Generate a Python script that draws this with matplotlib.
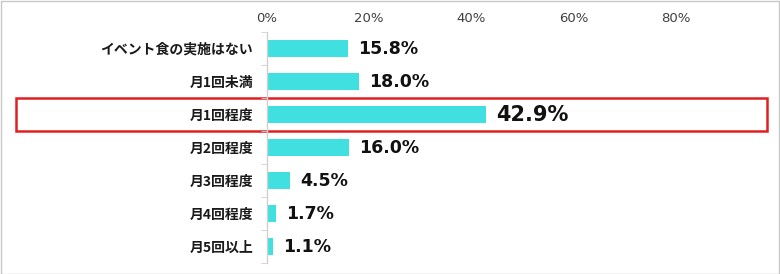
import matplotlib
matplotlib.use("Agg")
import matplotlib.pyplot as plt
import matplotlib.transforms as mtransforms
from matplotlib.patches import Rectangle

plt.rcParams['font.family'] = ['Noto Sans CJK JP', 'DejaVu Sans']

categories = ["イベント食の実施はない", "月1回未満", "月1回程度", "月2回程度", "月3回程度", "月4回程度", "月5回以上"]
values = [15.8, 18.0, 42.9, 16.0, 4.5, 1.7, 1.1]
xticks = [0, 20, 40, 60, 80]
xtick_labels = ["0%", "20%", "40%", "60%", "80%"]
highlight = 2

W, H = 780, 274
fig = plt.figure(figsize=(W / 100, H / 100), dpi=100)
ax = fig.add_axes([267 / W, 1 - 263 / H, (778 - 267) / W, (263 - 32) / H])

y = list(range(len(categories)))
ax.barh(y, values, height=0.5, color="#40e0e0")
ax.set_xlim(0, 100)
ax.set_ylim(len(categories) - 0.5, -0.5)

for i, v in enumerate(values):
    big = i == highlight
    ax.text(v + 2, i, f"{v:.1f}%", va="center", ha="left", family="DejaVu Sans",
            fontsize=15 if big else 12.5, fontweight="bold", color="#111111")

ax.set_yticks(y)
ax.set_yticklabels(categories, fontsize=10, fontweight="bold", color="#1a1a1a")
ax.tick_params(axis="y", length=0, pad=10)
ax.set_yticks([i + 0.5 for i in range(-1, len(categories))], minor=True)
ax.tick_params(axis="y", which="minor", length=4, color="#d0d0d0", direction="out")

ax.xaxis.tick_top()
ax.set_xticks(xticks)
ax.set_xticklabels(xtick_labels, fontsize=9.5, color="#404040", family="DejaVu Sans")
ax.tick_params(axis="x", length=0, pad=5)

for s in ["top", "right", "bottom"]:
    ax.spines[s].set_visible(False)
ax.spines["left"].set_color("#d0d0d0")
ax.spines["left"].set_linewidth(1)

# highlight box
trans = mtransforms.blended_transform_factory(fig.transFigure, ax.transData)
rect = Rectangle((16 / W, highlight + 0.5), (767 - 16) / W, -1.0, transform=trans,
                 fill=False, edgecolor="#e02020", linewidth=1.8, clip_on=False)
ax.add_patch(rect)

# outer border
fig.patches.append(Rectangle((0.5 / W, 0.5 / H), 1 - 1.5 / W, 1 - 1.5 / H, transform=fig.transFigure,
                             fill=False, edgecolor="#c8c8c8", linewidth=1))

fig.savefig("out.png", dpi=100)
